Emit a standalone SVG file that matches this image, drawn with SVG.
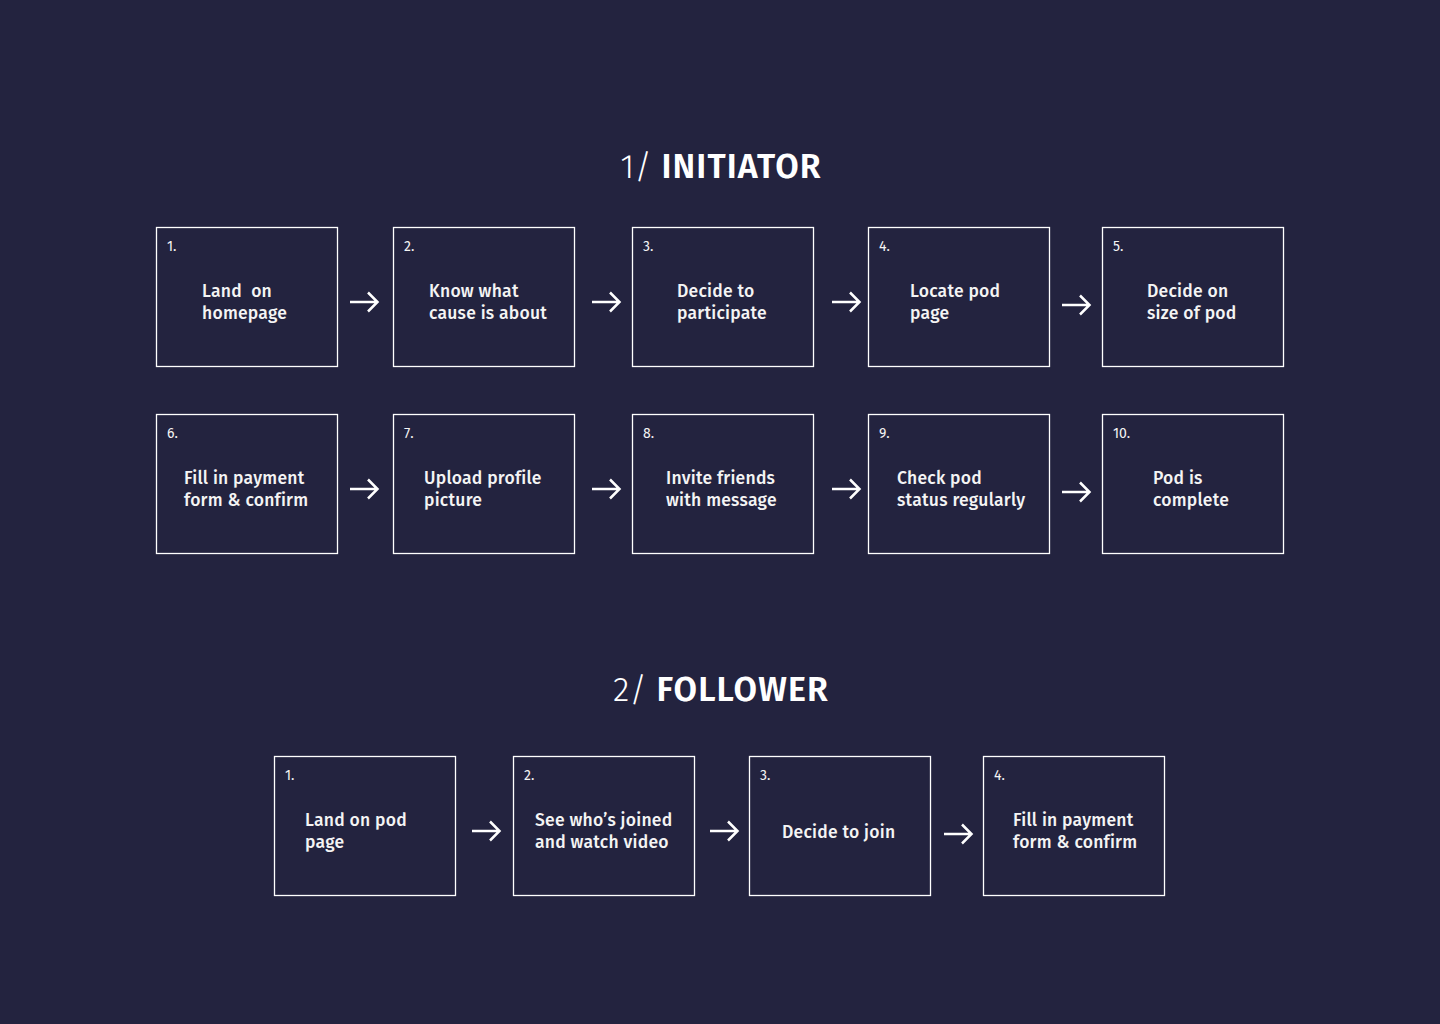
<svg xmlns="http://www.w3.org/2000/svg" width="1440" height="1024" viewBox="0 0 1440 1024">
<defs>
<style>
.bg{fill:#23233f}
.box{fill:#23233f;stroke:#ffffff;stroke-width:1.3}
.num{font-family:"Fira Sans","Open Sans","Noto Sans",sans-serif;font-size:14px;fill:#f4f4f4}
.lbl{font-family:"Fira Sans","Open Sans","Noto Sans",sans-serif;font-size:17.5px;font-weight:500;letter-spacing:0.25px;fill:#f4f4f4}
.ttl{font-family:"Fira Sans","Open Sans","Noto Sans",sans-serif;font-size:34px;fill:#ffffff}
.light{font-weight:300}
.bold{font-weight:600;letter-spacing:1.1px}
.arr{fill:none;stroke:#ffffff;stroke-width:2.5;stroke-linecap:butt;stroke-linejoin:miter}
</style>
<g id="arrowshape"><path class="arr" d="M0 0 H27.5 M18 -9.5 L27.5 0 L18 9.5"/></g>
</defs>
<rect class="bg" x="0" y="0" width="1440" height="1024"/>

<text class="ttl" x="721" y="178" text-anchor="middle"><tspan class="light">1/ </tspan><tspan class="bold">INITIATOR</tspan></text>
<text class="ttl" x="721" y="701" text-anchor="middle"><tspan class="light">2/ </tspan><tspan class="bold">FOLLOWER</tspan></text>

<g id="i1"><rect class="box" x="156.5" y="227.5" width="181" height="139"/><text class="num" x="167" y="251">1.</text><text class="lbl" x="202" y="297" xml:space="preserve">Land  on</text><text class="lbl" x="202" y="319">homepage</text></g>
<g id="i2"><rect class="box" x="393.5" y="227.5" width="181" height="139"/><text class="num" x="404" y="251">2.</text><text class="lbl" x="429" y="297">Know what</text><text class="lbl" x="429" y="319">cause is about</text></g>
<g id="i3"><rect class="box" x="632.5" y="227.5" width="181" height="139"/><text class="num" x="643" y="251">3.</text><text class="lbl" x="677" y="297">Decide to</text><text class="lbl" x="677" y="319">participate</text></g>
<g id="i4"><rect class="box" x="868.5" y="227.5" width="181" height="139"/><text class="num" x="879" y="251">4.</text><text class="lbl" x="910" y="297">Locate pod</text><text class="lbl" x="910" y="319">page</text></g>
<g id="i5"><rect class="box" x="1102.5" y="227.5" width="181" height="139"/><text class="num" x="1113" y="251">5.</text><text class="lbl" x="1147" y="297">Decide on</text><text class="lbl" x="1147" y="319">size of pod</text></g>

<g id="i6"><rect class="box" x="156.5" y="414.5" width="181" height="139"/><text class="num" x="167" y="438">6.</text><text class="lbl" x="184" y="484">Fill in payment</text><text class="lbl" x="184" y="506">form &amp; confirm</text></g>
<g id="i7"><rect class="box" x="393.5" y="414.5" width="181" height="139"/><text class="num" x="404" y="438">7.</text><text class="lbl" x="424" y="484">Upload profile</text><text class="lbl" x="424" y="506">picture</text></g>
<g id="i8"><rect class="box" x="632.5" y="414.5" width="181" height="139"/><text class="num" x="643" y="438">8.</text><text class="lbl" x="666" y="484">Invite friends</text><text class="lbl" x="666" y="506">with message</text></g>
<g id="i9"><rect class="box" x="868.5" y="414.5" width="181" height="139"/><text class="num" x="879" y="438">9.</text><text class="lbl" x="897" y="484">Check pod</text><text class="lbl" x="897" y="506">status regularly</text></g>
<g id="i10"><rect class="box" x="1102.5" y="414.5" width="181" height="139"/><text class="num" x="1113" y="438">10.</text><text class="lbl" x="1153" y="484">Pod is</text><text class="lbl" x="1153" y="506">complete</text></g>

<g id="f1"><rect class="box" x="274.5" y="756.5" width="181" height="139"/><text class="num" x="285" y="780">1.</text><text class="lbl" x="305" y="826">Land on pod</text><text class="lbl" x="305" y="848">page</text></g>
<g id="f2"><rect class="box" x="513.5" y="756.5" width="181" height="139"/><text class="num" x="524" y="780">2.</text><text class="lbl" x="535" y="826">See who’s joined</text><text class="lbl" x="535" y="848">and watch video</text></g>
<g id="f3"><rect class="box" x="749.5" y="756.5" width="181" height="139"/><text class="num" x="760" y="780">3.</text><text class="lbl" x="782" y="838">Decide to join</text></g>
<g id="f4"><rect class="box" x="983.5" y="756.5" width="181" height="139"/><text class="num" x="994" y="780">4.</text><text class="lbl" x="1013" y="826">Fill in payment</text><text class="lbl" x="1013" y="848">form &amp; confirm</text></g>

<g id="connectors">
<use href="#arrowshape" x="350" y="302"/>
<use href="#arrowshape" x="592" y="302"/>
<use href="#arrowshape" x="832" y="302"/>
<use href="#arrowshape" x="1062" y="305"/>
<use href="#arrowshape" x="350" y="489"/>
<use href="#arrowshape" x="592" y="489"/>
<use href="#arrowshape" x="832" y="489"/>
<use href="#arrowshape" x="1062" y="492"/>
<use href="#arrowshape" x="472" y="831"/>
<use href="#arrowshape" x="710" y="831"/>
<use href="#arrowshape" x="944" y="834"/>
</g>
</svg>
